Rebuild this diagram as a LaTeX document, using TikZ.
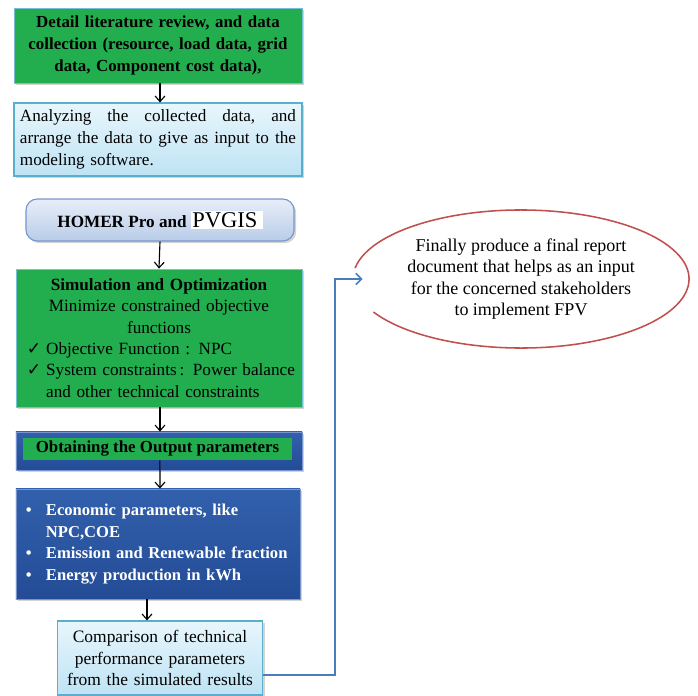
\documentclass[tikz,border=0pt]{standalone}
\usepackage{fontspec}
\setmainfont{Liberation Serif}
\newfontfamily\symfont{DejaVu Sans}
\usetikzlibrary{positioning,shapes.geometric,shadows,arrows.meta}

\definecolor{leafgreen}{RGB}{34,174,78}
\definecolor{paleline}{RGB}{120,190,215}
\definecolor{deepblue}{RGB}{50,96,172}
\definecolor{deepbluedark}{RGB}{36,76,150}
\definecolor{skytop}{RGB}{232,246,252}
\definecolor{skybot}{RGB}{190,227,244}
\definecolor{skyline}{RGB}{90,175,205}
\definecolor{lilactop}{RGB}{232,238,248}
\definecolor{lilacbot}{RGB}{184,204,232}
\definecolor{lilacline}{RGB}{120,150,205}
\definecolor{reportred}{RGB}{192,80,77}
\definecolor{linkblue}{RGB}{74,126,187}

\newcommand{\chk}{\makebox[0.48cm][l]{\symfont ✓}}
\newcommand{\bul}{\makebox[0.5cm][l]{•}}

\begin{document}
\begin{tikzpicture}[x=0.025cm,y=-0.025cm]
    % Define styles
    \tikzset{
        base/.style={font=\fontsize{12.2}{15.5}\selectfont, inner sep=2pt},
        heavy/.style={font=\bfseries\fontsize{12}{15.5}\selectfont},
        shade/.style={drop shadow={opacity=0.35, shadow xshift=1.5pt, shadow yshift=-1.5pt}},
        greenbox/.style={base, shade, rectangle, fill=leafgreen, draw=paleline, line width=0.6pt},
        bluebox/.style={base, shade, rectangle, top color=deepblue, bottom color=deepbluedark, draw=lilacline, line width=0.6pt},
        skybox/.style={base, shade, rectangle, top color=skytop, bottom color=skybot, draw=skyline, line width=0.8pt},
        toolbox/.style={base, shade, rectangle, rounded corners=8pt, top color=lilactop, bottom color=lilacbot, draw=lilacline, line width=0.8pt},
        reportbox/.style={base, ellipse, font=\fontsize{12.8}{15.3}\selectfont},
        flow/.style={-{Straight Barb[length=4pt,width=7pt]}, thick},
        link/.style={-{Straight Barb[length=4pt,width=8pt]}, draw=linkblue, line width=1.2pt}
    }

    % Bounding box
    \useasboundingbox (0,0) rectangle (698,696);

    % Flow chart boxes
    \node[greenbox, heavy, minimum width=7.2cm, minimum height=1.875cm, text width=6.9cm, align=center]
        (review) at (158,45.5) {Detail literature review, and data\\collection (resource, load data, grid\\data, Component cost data),};

    \node[skybox, minimum width=7.2cm, minimum height=1.825cm, text width=6.9cm, align=left]
        (analyse) at (158,139.5) {Analyzing\hfill the\hfill collected\hfill data,\hfill and\\arrange\hfill the\hfill data\hfill to\hfill give\hfill as\hfill input\hfill to\hfill the\\modeling software.};

    \node[toolbox, minimum width=6.7cm, minimum height=1.05cm]
        (homer) at (160,220) {\textbf{HOMER Pro and} {\setlength{\fboxsep}{1pt}\colorbox{white}{\fontsize{16}{18}\selectfont PVGIS\,}}};

    \node[greenbox, minimum width=7.15cm, minimum height=3.45cm, text width=6.6cm, align=center, font=\fontsize{12.2}{15.2}\selectfont]
        (simopt) at (159,338) {\textbf{Simulation and Optimization}\\Minimize constrained objective\\functions\\
        \makebox[\linewidth][l]{\chk Objective Function : NPC}\\
        \makebox[\linewidth][l]{\chk System constraints\,: Power balance}\\
        \makebox[\linewidth][l]{\hspace{0.48cm}and other technical constraints}};

    \node[bluebox, minimum width=7.15cm, minimum height=0.95cm] (output) at (159,451) {};
    \node[base, heavy, rectangle, fill=leafgreen, minimum width=6.725cm, minimum height=0.55cm]
        (outbar) at (157.5,449) {Obtaining the Output parameters};

    \node[bluebox, minimum width=7.1cm, minimum height=2.75cm, text width=6.6cm, align=left, text=white, font=\bfseries\fontsize{11.8}{15.5}\selectfont]
        (params) at (158,544) {\bul Economic parameters, like\\
        \hspace*{0.5cm}NPC,COE\\
        \bul Emission and Renewable fraction\\
        \bul Energy production in kWh};

    \node[skybox, minimum width=5.1cm, minimum height=1.85cm, text width=5cm, align=center, font=\fontsize{12.4}{15}\selectfont]
        (compare) at (160,658) {Comparison of technical\\performance parameters\\from the simulated results};

    % Final report
    \node[reportbox, minimum width=8.4cm, minimum height=3.45cm, align=center]
        (report) at (521,279) {Finally produce a final report\\document that helps as an input\\for the concerned stakeholders\\to implement FPV};
    \draw[reportred, line width=1.1pt] ([shift={(208.6:4.2cm and 1.725cm)}]report.center)
        arc[start angle=208.6, end angle=530.8, x radius=4.2cm, y radius=1.725cm];

    % Arrows between boxes
    \draw[flow] ([xshift=0.05cm]review.south) -- ([xshift=0.05cm]analyse.north);
    \draw[flow] (homer.south) -- (simopt.north);
    \draw[flow] ([xshift=0.025cm]simopt.south) -- ([xshift=0.025cm]output.north);
    \draw[flow] ([xshift=0.06cm]outbar.south) -- ([xshift=0.05cm]params.north);
    \draw[flow] ([xshift=-0.275cm]params.south) -- ([xshift=-0.275cm]params.south |- compare.north);

    % Link to report
    \draw[link] ([yshift=-0.425cm]compare.east) -| ([xshift=-0.45cm]report.west) -- ([xshift=0.25cm]report.west);
\end{tikzpicture}
\end{document}
